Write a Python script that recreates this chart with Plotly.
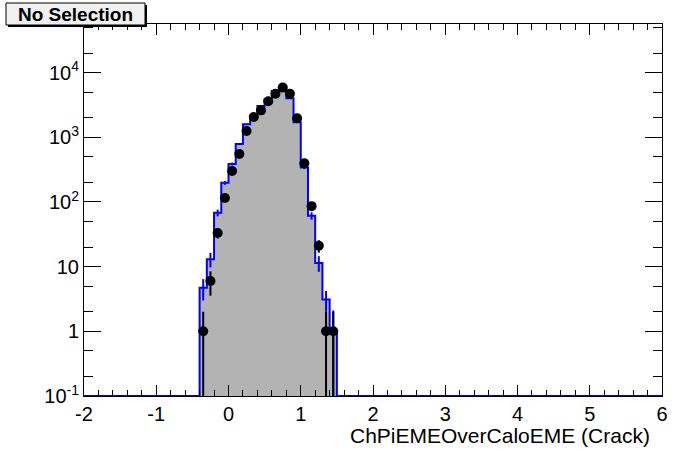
import math
import plotly.graph_objects as go

# ---- data (bin width 0.1, range -2..6) ----
bin_width = 0.1
x_min, x_max = -2.0, 6.0
y_min_log, y_max_log = -1.0, 4.75

bin_centers = [-0.35, -0.25, -0.15, -0.05, 0.05, 0.15, 0.25, 0.35, 0.45, 0.55,
               0.65, 0.75, 0.85, 0.95, 1.05, 1.15, 1.25, 1.35, 1.45]
mc_values = [4.7, 13, 68, 198, 385, 785, 1590, 2150, 3030, 3870,
             5190, 6050, 4000, 1700, 340, 61, 11.4, 3.1, 1.0]
mc_errors = [1.7, 3.3, 8, 14, 20, 28, 40, 46, 55, 62,
             72, 78, 63, 41, 18, 8, 3.1, 1.1, 1.1]
data_values = [1, 6, 33, 115, 300, 550, 1250, 2050, 2600, 3600,
               4700, 5850, 4700, 1960, 395, 86, 21, 1, 1]

y_tickvals = [0.1, 1, 10, 100, 1000, 10000]
y_ticktext = ["10<sup>-1</sup>", "1", "10", "10<sup>2</sup>", "10<sup>3</sup>", "10<sup>4</sup>"]
x_tickvals = [-2, -1, 0, 1, 2, 3, 4, 5, 6]
x_ticktext = ["-2", "-1", "0", "1", "2", "3", "4", "5", "6"]

x_title = "ChPiEMEOverCaloEME (Crack)"
title_text = "No Selection"

# ---- build full-range step outline (ROOT clamps empty bins to axis minimum) ----
y_floor = 10 ** y_min_log
n_bins = int(round((x_max - x_min) / bin_width))
edges = [x_min + i * bin_width for i in range(n_bins + 1)]
content = [0.0] * n_bins
for c, v in zip(bin_centers, mc_values):
    idx = int(round((c - x_min) / bin_width - 0.5))
    content[idx] = v
step_x = []
step_y = []
for i in range(n_bins):
    yv = max(content[i], y_floor)
    step_x += [edges[i], edges[i + 1]]
    step_y += [yv, yv]

# Poisson errors for data
data_err = [math.sqrt(v) for v in data_values]

fig = go.Figure()

# gray fill
fig.add_trace(go.Bar(x=bin_centers, y=mc_values, width=bin_width,
                     marker=dict(color="#b3b3b3", line=dict(width=0)),
                     showlegend=False, hoverinfo="skip"))
# blue outline
fig.add_trace(go.Scatter(x=step_x, y=step_y, mode="lines",
                         line=dict(color="#0000ff", width=2),
                         showlegend=False, hoverinfo="skip"))
# MC error bars
fig.add_trace(go.Scatter(x=bin_centers, y=mc_values, mode="markers",
                         marker=dict(size=1, color="rgba(0,0,0,0)"),
                         error_y=dict(type="data", array=mc_errors, color="#0000ff",
                                      thickness=2, width=0),
                         showlegend=False, hoverinfo="skip"))
# data points
fig.add_trace(go.Scatter(x=bin_centers, y=data_values, mode="markers",
                         marker=dict(size=10, color="black", symbol="circle"),
                         error_y=dict(type="data", array=data_err,
                                      arrayminus=data_err, color="black",
                                      thickness=2, width=0),
                         showlegend=False))

L, R, T, B = 84, 34, 24, 76
W, H = 696, 472
pw, ph = W - L - R, H - T - B


def px2paper(px, py):
    return (px - L) / pw, (H - B - py) / ph


FONT = "Liberation Sans, Arial, Helvetica, sans-serif"
axis_font = dict(family=FONT, size=20, color="black")

fig.update_layout(
    width=W, height=H,
    margin=dict(l=L, r=R, t=T, b=B),
    paper_bgcolor="white", plot_bgcolor="white",
    bargap=0,
    xaxis=dict(range=[x_min, x_max], tickvals=x_tickvals, ticktext=x_ticktext,
               ticks="inside", ticklen=11, tickwidth=1, tickcolor="black",
               showline=True, linecolor="black", linewidth=1, mirror="allticks",
               showgrid=False, zeroline=False, tickfont=axis_font,
               minor=dict(dtick=0.2, ticks="inside", ticklen=6, tickcolor="black",
                          showgrid=False)),
    yaxis=dict(type="log", range=[y_min_log, y_max_log],
               tickvals=y_tickvals, ticktext=y_ticktext,
               ticks="inside", ticklen=17, tickwidth=1, tickcolor="black",
               showline=True, linecolor="black", linewidth=1, mirror="allticks",
               showgrid=False, zeroline=False, tickfont=axis_font,
               minor=dict(ticks="inside", ticklen=9, tickcolor="black", showgrid=False)),
)

# x-axis title (ROOT style: right aligned under axis)
fig.add_annotation(text=x_title, xref="paper", yref="paper",
                   x=px2paper(652, 0)[0], y=px2paper(0, 436)[1],
                   xanchor="right", yanchor="middle", showarrow=False,
                   font=dict(family=FONT, size=21, color="black"))

# title box with shadow
x0, y0 = px2paper(6, 3)
x1, y1 = px2paper(145, 25)
sx0, sy0 = px2paper(8, 5)
sx1, sy1 = px2paper(147, 27)
fig.add_shape(type="rect", xref="paper", yref="paper", x0=sx0, x1=sx1, y0=sy1, y1=sy0,
              fillcolor="black", line=dict(width=0), layer="above")
fig.add_shape(type="rect", xref="paper", yref="paper", x0=x0, x1=x1, y0=y1, y1=y0,
              fillcolor="#f0f0f0", line=dict(color="black", width=1), layer="above")
cx, cy = px2paper(75, 14)
fig.add_annotation(text="<b>" + title_text + "</b>", xref="paper", yref="paper",
                   x=cx, y=cy, xanchor="center", yanchor="middle", showarrow=False,
                   font=dict(family=FONT, size=19, color="black"))

fig.write_html("out.html", config={"displayModeBar": False},
               post_script="document.body.style.margin='0px';")
